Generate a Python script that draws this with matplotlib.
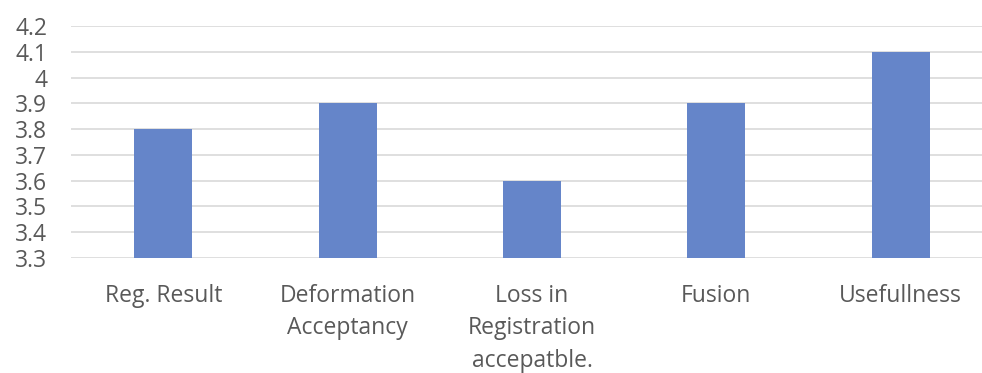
import matplotlib
matplotlib.use("Agg")
import matplotlib.pyplot as plt
import numpy as np

categories = ["Reg. Result", "Deformation\nAcceptancy", "Loss in\nRegistration\naccepatble.",
              "Fusion", "Usefullness"]
scores = [3.8, 3.9, 3.6, 3.9, 4.1]
y_ticks = [3.3, 3.4, 3.5, 3.6, 3.7, 3.8, 3.9, 4.0, 4.1, 4.2]
y_labels = ["3.3", "3.4", "3.5", "3.6", "3.7", "3.8", "3.9", "4", "4.1", "4.2"]

plt.rcParams['font.family'] = ['Open Sans', 'DejaVu Sans']

fig = plt.figure(figsize=(9.82, 3.73), dpi=100)
ax = fig.add_axes([71 / 982, 115 / 373, 922 / 982, 232 / 373])

x = np.arange(len(categories))
ax.bar(x, scores, width=0.315, color="#6585c9", zorder=3)

ax.set_ylim(3.3, 4.2)
ax.set_xlim(-0.5, len(categories) - 0.5)
ax.set_yticks(y_ticks)
ax.set_yticklabels(y_labels)
ax.set_xticks(x)
ax.set_xticklabels(categories, linespacing=1.48, va="top")
ax.grid(axis="y", color="#d9d9d9", linewidth=1.2, zorder=0)

for s in ax.spines.values():
    s.set_visible(False)
ax.tick_params(axis="both", length=0, labelsize=16.5, labelcolor="#595959")
ax.tick_params(axis="y", pad=17)
ax.tick_params(axis="x", pad=18.5)

fig.savefig("out.png", dpi=100)
